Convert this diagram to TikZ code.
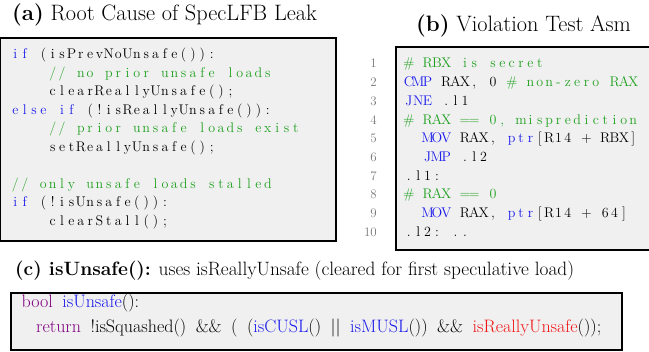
\documentclass[tikz,border=0pt]{standalone}
\usepackage{fontspec}
\usetikzlibrary{positioning}

\definecolor{cmtgreen}{RGB}{30,160,30}
\definecolor{kwblue}{RGB}{25,25,235}
\definecolor{typepurple}{RGB}{128,0,128}
\definecolor{errred}{RGB}{240,20,20}
\definecolor{lnogray}{RGB}{120,120,120}
\definecolor{boxgray}{RGB}{240,240,240}

% fixed-width code columns, one cell per character
\newlength\fxw
\setlength\fxw{9.35pt}
\ExplSyntaxOn
\tl_new:N \l_fx_tl
\NewDocumentCommand \fx { m }
  {
    \tl_set:Nn \l_fx_tl { #1 }
    \tl_replace_all:Nnn \l_fx_tl { ~ } { { } }
    \tl_map_inline:Nn \l_fx_tl { \makebox[\fxw][c]{##1} }
  }
\ExplSyntaxOff
\newcommand\kw[1]{\textcolor{kwblue}{\fx{#1}}}
\newcommand\cm[1]{\textcolor{cmtgreen}{\fx{#1}}}
\newcommand\widesp{\spaceskip=9.5pt\relax}

\begin{document}
\begin{tikzpicture}[x=1pt, y=-1pt,
  panel/.style={draw, line width=1.1pt, fill=boxgray},
  title/.style={anchor=base west, inner sep=0pt, font=\fontsize{22.3}{25}\selectfont},
  code/.style={anchor=base west, inner sep=0pt, font=\fontsize{14}{16}\selectfont},
  lno/.style={anchor=base east, inner sep=0pt, text=lnogray, font=\fontsize{13}{16}\selectfont},
  plain/.style={anchor=base west, inner sep=0pt, font=\fontsize{18}{21}\selectfont}]

  \useasboundingbox (0,0) rectangle (649,352);

  % panel frames
  \draw[panel] (0,38) rectangle (336,241);
  \draw[panel] (396,47) rectangle (655,250);
  \draw[panel] (11,293) rectangle (622,350);

  % titles
  \node[title] (ta) at (12,21) {\textbf{(a)} Root Cause of SpecLFB Leak};
  \node[title] (tb) at (416,32) {\textbf{(b)} Violation Test Asm};
  \node[title, font=\fontsize{19.3}{22}\selectfont] (tc) at (15,276)
    {\textbf{(c) isUnsafe():} uses isReallyUnsafe (cleared for first speculative load)};

  % (a) root cause
  \node[code] (a1) at (10.5,59) {\kw{if}\fx{ (isPrevNoUnsafe()):}};
  \node[code] (a2) at (47.9,77.5) {\cm{// no prior unsafe loads}};
  \node[code] (a3) at (47.9,96) {\fx{clearReallyUnsafe();}};
  \node[code] (a4) at (10.5,114.5) {\kw{else if}\fx{ (!isReallyUnsafe()):}};
  \node[code] (a5) at (47.9,133) {\cm{// prior unsafe loads exist}};
  \node[code] (a6) at (47.9,151.5) {\fx{setReallyUnsafe();}};
  \node[code] (a8) at (10.5,188.5) {\cm{// only unsafe loads stalled}};
  \node[code] (a9) at (10.5,207) {\kw{if}\fx{ (!isUnsafe()):}};
  \node[code] (a10) at (47.9,225.5) {\fx{clearStall();}};

  % (b) test asm
  \foreach \i in {1,...,10}
    \node[lno] (n\i) at (377,{68+18.7*(\i-1)}) {\i};
  \node[code] (b1) at (404,68) {\cm{\# RBX is secret}};
  \node[code] (b2) at (404,86.7) {\kw{CMP}\fx{ RAX, 0 }\cm{\# non-zero RAX}};
  \node[code] (b3) at (404,105.4) {\kw{JNE}\fx{ .l1}};
  \node[code] (b4) at (404,124.1) {\cm{\# RAX == 0, misprediction}};
  \node[code] (b5) at (422.7,142.8) {\kw{MOV}\fx{ RAX, }\kw{ptr}\fx{[R14 + RBX]}};
  \node[code] (b6) at (422.7,161.5) {\kw{JMP}\fx{ .l2}};
  \node[code] (b7) at (404,180.2) {\fx{.l1:}};
  \node[code] (b8) at (404,198.9) {\cm{\# RAX == 0}};
  \node[code] (b9) at (422.7,217.6) {\kw{MOV}\fx{ RAX, }\kw{ptr}\fx{[R14 + 64]}};
  \node[code] (b10) at (404,236.3) {\fx{.l2: ..}};

  % (c) isUnsafe
  \node[plain] (c1) at (21.5,308)
    {\widesp\textcolor{typepurple}{bool} \textcolor{kwblue}{isUnsafe}():};
  \node[plain] (c2) at (36,333)
    {\widesp\textcolor{typepurple}{return} !isSquashed() \&\& ( (\textcolor{kwblue}{isCUSL}() || \textcolor{kwblue}{isMUSL}()) \&\& \textcolor{errred}{isReallyUnsafe}());};
\end{tikzpicture}
\end{document}
